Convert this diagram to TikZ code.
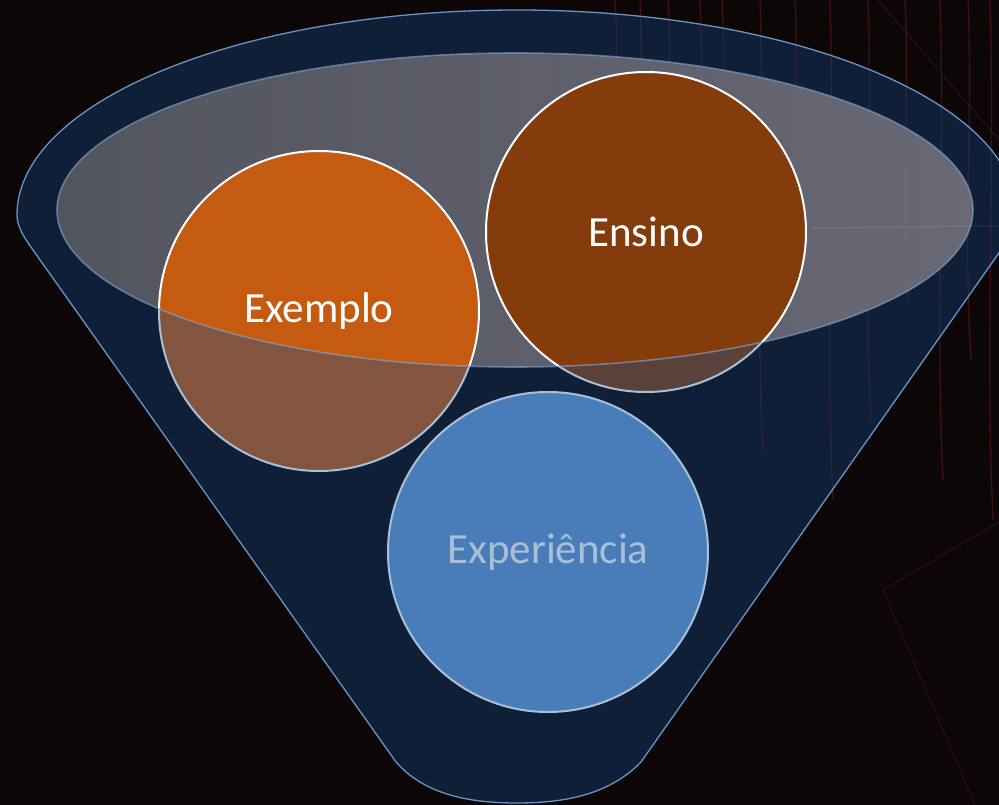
\documentclass[tikz,border=0pt]{standalone}
\usepackage{fontspec}
\setmainfont{Carlito}
\begin{document}
\begin{tikzpicture}[x=1pt,y=-1pt]
\definecolor{bgc}{RGB}{13,6,7}
\definecolor{streakc}{RGB}{120,26,26}
\definecolor{faintc}{RGB}{95,62,62}
\definecolor{grayL}{RGB}{90,93,104}
\definecolor{grayR}{RGB}{114,116,129}
\definecolor{exorange}{RGB}{197,90,17}
\definecolor{ensbrown}{RGB}{132,60,12}
\definecolor{expblue}{RGB}{106,152,210}
\definecolor{funnelblue}{RGB}{16,78,142}
\definecolor{funnelline}{RGB}{105,148,198}
\definecolor{rimline}{RGB}{130,168,212}
\tikzset{
  bubble/.style={circle, draw=white, line width=2pt, minimum size=320pt,
    inner sep=0pt, font=\fontsize{43}{50}\selectfont, text=white},
  streak/.style={draw=streakc, line width=1.2pt, opacity=0.5},
  faint/.style={draw=faintc, line width=0.7pt, opacity=0.35}
}
\def\funnelpath{(396,762) -- (33,250) .. controls (26,240) and (17,228) .. (17,215)
  .. controls (17,101.8) and (240.9,10) .. (517,10)
  .. controls (793.1,10) and (1017,101.8) .. (1017,215)
  .. controls (1017,228) and (1008,240) .. (1001,250) -- (641,762)
  .. controls (609,795) and (564,803) .. (517,803)
  .. controls (470,803) and (425,795) .. (396,762) -- cycle}
\useasboundingbox (0,0) rectangle (999,805);
% background
\fill[bgc] (0,0) rectangle (999,805);
\foreach \x/\b in {615/200, 640/380, 668/250, 700/300, 722/260, 760/450, 795/330, 830/500, 868/420, 905/300, 940/480, 968/360, 990/520}
  \draw[streak] (\x,0) .. controls (\x+5,\b/3) and (\x-5,2*\b/3) .. (\x+3,\b);
\draw[faint] (878,0) -- (999,140);
\draw[faint] (883,590) -- (999,522);
\draw[faint] (883,590) -- (975,805);
% funnel opening
\shade[left color=grayL, right color=grayR, fill opacity=0.9] (515,210) ellipse [x radius=458, y radius=157];
\draw[white, opacity=0.1, line width=1.2pt] (812,228) -- (999,226);
% circles
\node[bubble, fill=exorange] (exemplo) at (319,311) {Exemplo};
\node[bubble, fill=ensbrown] (ensino) at (646,232) {Ensino};
\node[bubble, fill=expblue] (experiencia) at (548,552) {Experiência};
% funnel body (translucent) over everything outside the opening
\fill[funnelblue, fill opacity=0.36, even odd rule] \funnelpath (515,210) ellipse [x radius=458, y radius=157];
% outlines
\draw[funnelline, line width=1.3pt] \funnelpath;
\draw[rimline, line width=1.6pt, opacity=0.6] (515,210) ellipse [x radius=458, y radius=157];
\end{tikzpicture}
\end{document}
